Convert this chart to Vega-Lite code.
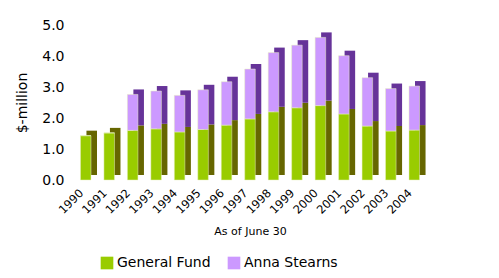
{
  "$schema": "https://vega.github.io/schema/vega-lite/v6.json",
  "autosize": "none",
  "width": 352,
  "height": 155,
  "padding": {"left": 74, "top": 25, "right": 73, "bottom": 98},
  "background": "white",
  "config": {
    "font": "DejaVu Sans",
    "view": {"stroke": null}
  },
  "data": {
    "values": [
      {"year": "1990", "series": "General Fund", "value": 1.43},
      {"year": "1990", "series": "Anna Stearns", "value": 0.0},
      {"year": "1991", "series": "General Fund", "value": 1.52},
      {"year": "1991", "series": "Anna Stearns", "value": 0.0},
      {"year": "1992", "series": "General Fund", "value": 1.6},
      {"year": "1992", "series": "Anna Stearns", "value": 1.16},
      {"year": "1993", "series": "General Fund", "value": 1.65},
      {"year": "1993", "series": "Anna Stearns", "value": 1.22},
      {"year": "1994", "series": "General Fund", "value": 1.55},
      {"year": "1994", "series": "Anna Stearns", "value": 1.18},
      {"year": "1995", "series": "General Fund", "value": 1.63},
      {"year": "1995", "series": "Anna Stearns", "value": 1.28},
      {"year": "1996", "series": "General Fund", "value": 1.77},
      {"year": "1996", "series": "Anna Stearns", "value": 1.4},
      {"year": "1997", "series": "General Fund", "value": 1.97},
      {"year": "1997", "series": "Anna Stearns", "value": 1.61},
      {"year": "1998", "series": "General Fund", "value": 2.2},
      {"year": "1998", "series": "Anna Stearns", "value": 1.91},
      {"year": "1999", "series": "General Fund", "value": 2.33},
      {"year": "1999", "series": "Anna Stearns", "value": 2.02},
      {"year": "2000", "series": "General Fund", "value": 2.4},
      {"year": "2000", "series": "Anna Stearns", "value": 2.2},
      {"year": "2001", "series": "General Fund", "value": 2.13},
      {"year": "2001", "series": "Anna Stearns", "value": 1.88},
      {"year": "2002", "series": "General Fund", "value": 1.74},
      {"year": "2002", "series": "Anna Stearns", "value": 1.56},
      {"year": "2003", "series": "General Fund", "value": 1.58},
      {"year": "2003", "series": "Anna Stearns", "value": 1.37},
      {"year": "2004", "series": "General Fund", "value": 1.61},
      {"year": "2004", "series": "Anna Stearns", "value": 1.42}
    ]
  },
  "encoding": {
    "x": {
      "field": "year",
      "type": "ordinal",
      "scale": {"paddingInner": 0.55, "paddingOuter": 0.275},
      "axis": {
        "title": "As of June 30",
        "titleFontSize": 11,
        "titleFontWeight": "normal",
        "titlePadding": 10,
        "labelAngle": -45,
        "labelFontSize": 11.5,
        "labelColor": "#000",
        "labelOffset": -8,
        "labelPadding": 7,
        "domain": false,
        "ticks": false
      }
    },
    "y": {
      "field": "value",
      "type": "quantitative",
      "stack": "zero",
      "scale": {"domain": [0, 5]},
      "axis": {
        "title": "$-million",
        "titleFontSize": 14,
        "titleFontWeight": "normal",
        "titlePadding": 12,
        "values": [0, 1, 2, 3, 4, 5],
        "format": ".1f",
        "labelFontSize": 14,
        "labelColor": "#000",
        "labelPadding": 10,
        "domain": false,
        "ticks": false,
        "grid": false
      }
    },
    "order": {"field": "series", "sort": "descending"}
  },
  "layer": [
    {
      "mark": {"type": "bar", "xOffset": 6, "yOffset": -5},
      "encoding": {
        "color": {
          "field": "series",
          "type": "nominal",
          "scale": {"domain": ["General Fund", "Anna Stearns"], "range": ["#666600", "#663399"]},
          "legend": null
        }
      }
    },
    {
      "mark": {"type": "bar", "stroke": "#e8f0c0", "strokeWidth": 0.5},
      "encoding": {
        "color": {
          "field": "series",
          "type": "nominal",
          "scale": {"domain": ["General Fund", "Anna Stearns"], "range": ["#99cc00", "#cc99ff"]},
          "legend": {
            "title": null,
            "orient": "none",
            "legendX": 26,
            "legendY": 231,
            "direction": "horizontal",
            "symbolType": "square",
            "symbolSize": 160,
            "symbolStrokeWidth": 0,
            "labelFontSize": 14,
            "labelColor": "#000",
            "labelOffset": 3,
            "columnPadding": 16
          }
        }
      }
    }
  ],
  "resolve": {"scale": {"color": "independent"}}
}
